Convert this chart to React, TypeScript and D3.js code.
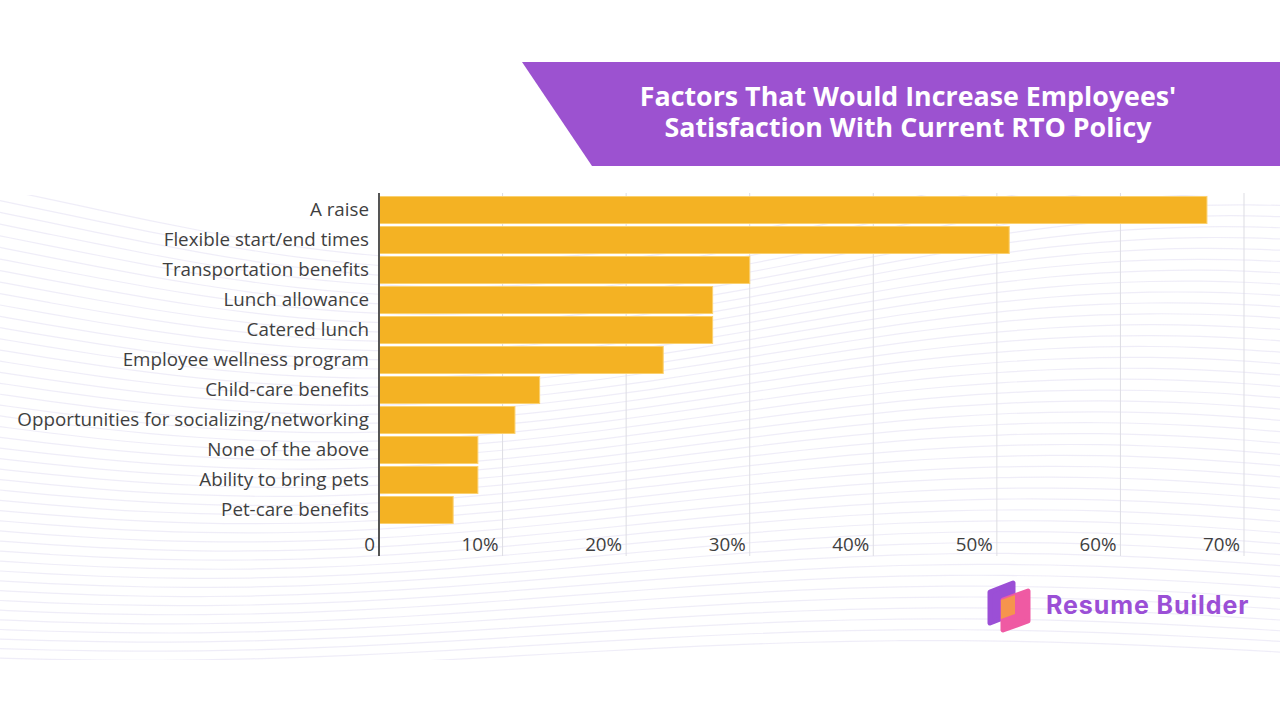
import * as d3 from 'd3';

const categories = [
    'A raise',
    'Flexible start/end times',
    'Transportation benefits',
    'Lunch allowance',
    'Catered lunch',
    'Employee wellness program',
    'Child-care benefits',
    'Opportunities for socializing/networking',
    'None of the above',
    'Ability to bring pets',
    'Pet-care benefits',
];
const shares = [67, 51, 30, 27, 27, 23, 13, 11, 8, 8, 6];
const ticks = [0, 10, 20, 30, 40, 50, 60, 70];
const titleLines = ["Factors That Would Increase Employees'", 'Satisfaction With Current RTO Policy'];

const width = 1280;
const height = 720;
const purple = '#9c52d0';

// decorative background waves
function wavePaths() {
    const out: string[] = [];
    const line = d3
        .line<[number, number]>()
        .x((d) => d[0])
        .y((d) => d[1])
        .curve(d3.curveBasis);
    for (let i = 0; i < 46; i++) {
        const base = 205 + i * 10;
        const amp = 55 - i * 0.9;
        const pts: [number, number][] = d3.range(0, 1301, 50).map((x) => [
            x,
            base + amp * Math.sin((x / 1280) * Math.PI * 1.6 - 0.3 + i * 0.03),
        ]);
        out.push(line(pts) ?? '');
    }
    return out;
}

export default function App() {
    const x = d3.scaleLinear().domain([0, 70]).range([379, 1244]);
    const y = d3.scaleBand<string>().domain(categories).range([195, 525]).paddingInner(0.1).paddingOuter(0.05);
    const waves = wavePaths();

    return (
        <div style={{ position: 'absolute', left: 0, top: 0 }}>
            <svg width={width} height={height} viewBox={`0 0 ${width} ${height}`} style={{ display: 'block', background: '#fff' }}>
                <defs>
                    <clipPath id="wave-clip">
                        <rect x={0} y={195} width={width} height={465} />
                    </clipPath>
                </defs>

                <g clipPath="url(#wave-clip)">
                    {waves.map((d, i) => (
                        <path key={i} d={d} fill="none" stroke="#ebe8f6" strokeWidth={1.2} opacity={0.8} />
                    ))}
                </g>

                {/* title banner */}
                <path d="M522,62 L1280,62 L1280,166 L592,166 Z" fill={purple} />
                {titleLines.map((t, i) => (
                    <text
                        key={t}
                        x={908}
                        y={106 + i * 31}
                        textAnchor="middle"
                        fill="#fff"
                        fontFamily="'Open Sans', sans-serif"
                        fontWeight={700}
                        fontSize={26.8}
                    >
                        {t}
                    </text>
                ))}

                {/* gridlines */}
                {ticks.slice(1).map((t) => (
                    <line key={t} x1={x(t)} x2={x(t)} y1={193} y2={556} stroke="#dddde3" strokeWidth={1} />
                ))}

                {/* bars */}
                {categories.map((c, i) => (
                    <rect
                        key={c}
                        x={x(0)}
                        y={y(c)}
                        width={x(shares[i]) - x(0)}
                        height={y.bandwidth()}
                        fill="#f4b223"
                        stroke="#fbd170"
                        strokeWidth={1}
                    />
                ))}

                {/* category labels */}
                {categories.map((c) => (
                    <text
                        key={c}
                        x={369}
                        y={(y(c) ?? 0) + y.bandwidth() / 2}
                        dy="0.33em"
                        textAnchor="end"
                        fill="#3f3f3f"
                        fontFamily="'Open Sans', sans-serif"
                        fontSize={18.8}
                    >
                        {c}
                    </text>
                ))}

                {/* tick labels */}
                {ticks.map((t) => (
                    <text
                        key={t}
                        x={x(t) - 4}
                        y={551}
                        textAnchor="end"
                        fill="#3f3f3f"
                        fontFamily="'Open Sans', sans-serif"
                        fontSize={18.8}
                    >
                        {t === 0 ? '0' : `${t}%`}
                    </text>
                ))}

                <line x1={379} x2={379} y1={193} y2={556} stroke="#555" strokeWidth={2} />

                {/* logo */}
                <path
                    d="M990,592 L1013,583 L1013,614 L990,623 Z"
                    fill="#9b4fd6"
                    stroke="#9b4fd6"
                    strokeWidth={5}
                    strokeLinejoin="round"
                />
                <path
                    d="M1003,600 L1028,591 L1028,621 L1003,630 Z"
                    fill="#ef5aa3"
                    stroke="#ef5aa3"
                    strokeWidth={5}
                    strokeLinejoin="round"
                />
                <path d="M1001,600 L1015,595 L1015,614 L1001,619 Z" fill="#f6944d" />
                <text
                    x={1046}
                    y={614}
                    fill="#9b4fd6"
                    fontFamily="Inter, sans-serif"
                    fontWeight={700}
                    fontSize={25}
                    letterSpacing={0.9}
                >
                    Resume Builder
                </text>
            </svg>
        </div>
    );
}
